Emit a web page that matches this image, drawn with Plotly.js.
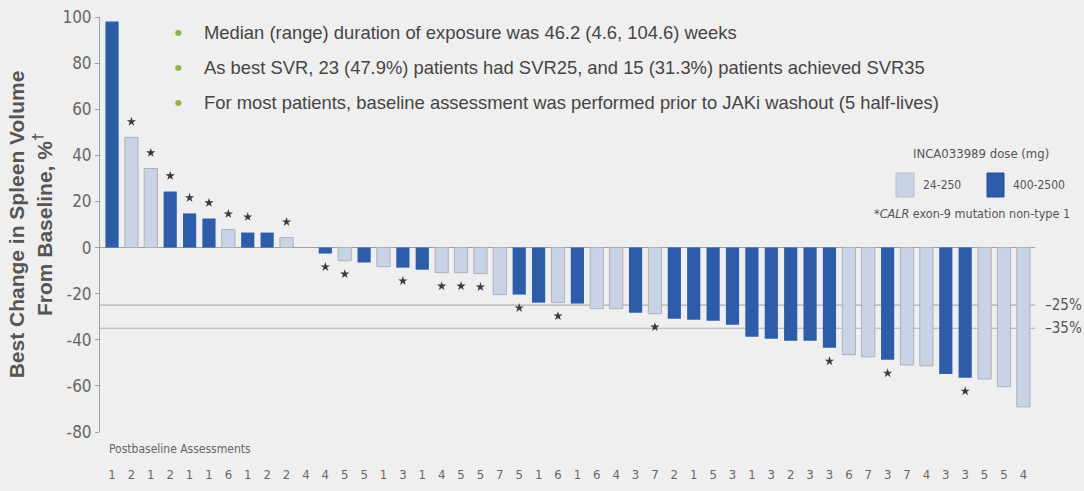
<!DOCTYPE html>
<html><head><meta charset="utf-8">
<script src="https://cdn.plot.ly/plotly-3.0.1.min.js"></script>
<style>html,body{margin:0;padding:0;background:#efefef;}#chart{width:1084px;height:491px;}</style>
</head><body><div id="chart"></div>
<script>
// Patient index 1..48 (waterfall order)
const values = [98, 47.8, 34.3, 24.3, 14.8, 12.6, 7.8, 6.5, 6.5, 4.3, 0,
  -2.6, -5.7, -6.5, -8.3, -8.7, -9.6, -10.9, -10.9, -11.3, -20.4, -20.4, -23.9, -23.9, -24.3,
  -26.5, -26.5, -28.3, -28.7, -30.9, -31.3, -31.7, -33.5, -38.7, -39.6, -40.4, -40.4, -43.5,
  -46.5, -47.4, -48.7, -50.9, -51.3, -54.8, -56.5, -57.0, -60.4, -69.1];
// dose group: L = 24-250 mg, H = 400-2500 mg
const doseGroup = ['H','L','L','H','H','H','L','H','H','L','H',
  'H','L','H','L','H','H','L','L','L','L','H','H','L','H',
  'L','L','H','L','H','H','H','H','H','H','H','H','H',
  'L','L','H','L','L','H','H','L','L','L'];
// CALR exon-9 mutation non-type 1
const calrStar = [0,1,1,1,1,1,1,1,0,1,0,
  1,1,0,0,1,0,1,1,1,0,1,0,1,0,
  0,0,0,1,0,0,0,0,0,0,0,0,1,
  0,0,1,0,0,0,1,0,0,0];
const assessments = ['1','2','1','2','1','1','6','1','2','2','4',
  '4','5','5','1','3','1','4','5','5','7','5','1','6','1',
  '6','4','3','7','2','1','5','3','1','3','2','3','3',
  '6','7','3','7','4','3','3','5','5','4'];
const yTicks = [-80, -60, -40, -20, 0, 20, 40, 60, 80, 100];
const yTickText = ['-80', '-60', '-40', '-20', '0', '20', '40', '60', '80', '100'];
const bullets = [
  'Median (range) duration of exposure was 46.2 (4.6, 104.6) weeks',
  'As best SVR, 23 (47.9%) patients had SVR25, and 15 (31.3%) patients achieved SVR35',
  'For most patients, baseline assessment was performed prior to JAKi washout (5 half-lives)'
];
const thresholds = [-25, -35];
const thresholdLabels = ['\u201325%', '\u201335%'];
const legendTitle = 'INCA033989 dose (mg)';
const legendNames = ['24-250', '400-2500'];

const xs = values.map((v, i) => i + 1);
function pick(arr, g) { return arr.filter((v, i) => doseGroup[i] === g); }
const xL = pick(xs, 'L'), vL = pick(values, 'L');
const xH = pick(xs, 'H'), vH = pick(values, 'H');
const starX = [], starY = [];
values.forEach((v, i) => { if (calrStar[i]) { starX.push(i + 1); starY.push(v >= 0 ? v + 6.8 : v - 5.8); } });

const narrow = 'DejaVu Sans Condensed, Liberation Sans Narrow, Arial Narrow, sans-serif';
const lightC = '#c9d3e6', darkC = '#2d5ca8';
const traces = [
  {type: 'bar', x: xL, y: vL, name: legendNames[0], marker: {color: lightC, line: {color: '#aeb0bd', width: 1}}, showlegend: false},
  {type: 'bar', x: xH, y: vH, name: legendNames[1], marker: {color: darkC, line: {width: 0}}, showlegend: false},
  {type: 'scatter', mode: 'markers', x: starX, y: starY, marker: {symbol: 'star', size: 7, color: '#3a3a3a'}, showlegend: false, hoverinfo: 'skip'}
];

// paper coordinates helpers: plot area x 100..1035, y 17..432
const px = x => (x - 100) / 935;
const py = y => (432 - y) / 415;

const shapes = thresholds.map(t => ({type: 'line', xref: 'paper', x0: 0, x1: 1, yref: 'y', y0: t, y1: t, line: {color: '#b0b0b0', width: 1.2}, layer: 'below'}));
// manual legend swatches
shapes.push({type: 'rect', xref: 'paper', yref: 'paper', x0: px(896), x1: px(914), y0: py(197), y1: py(173), fillcolor: lightC, line: {color: '#b8bccb', width: 1}});
shapes.push({type: 'rect', xref: 'paper', yref: 'paper', x0: px(987), x1: px(1004), y0: py(197), y1: py(173), fillcolor: darkC, line: {color: '#27508f', width: 1}});

const annotations = [];
thresholds.forEach((t, i) => annotations.push({xref: 'paper', x: 1.009, xanchor: 'left', yref: 'y', y: t, yanchor: 'middle', text: thresholdLabels[i], showarrow: false, font: {family: narrow, size: 15, color: '#555'}}));
bullets.forEach((b, i) => {
  annotations.push({xref: 'paper', x: px(178), xanchor: 'center', yref: 'paper', y: py(32 + 35.5 * i), yanchor: 'middle', text: '\u25CF', showarrow: false, font: {family: 'DejaVu Sans', size: 8, color: '#8fb545'}});
  annotations.push({xref: 'paper', x: px(202), xanchor: 'left', yref: 'paper', y: py(32 + 35.5 * i), yanchor: 'middle', text: b, showarrow: false, font: {family: 'Liberation Sans, Arial, sans-serif', size: 18.4, color: '#454545'}});
});
annotations.push({xref: 'paper', x: px(107), xanchor: 'left', yref: 'paper', y: py(449), yanchor: 'middle', text: 'Postbaseline Assessments', showarrow: false, font: {family: narrow, size: 12, color: '#666'}});
annotations.push({xref: 'paper', x: px(981), xanchor: 'center', yref: 'paper', y: py(153), yanchor: 'middle', text: legendTitle, showarrow: false, font: {family: narrow, size: 13, color: '#555'}});
annotations.push({xref: 'paper', x: px(921), xanchor: 'left', yref: 'paper', y: py(185), yanchor: 'middle', text: legendNames[0], showarrow: false, font: {family: narrow, size: 12, color: '#555'}});
annotations.push({xref: 'paper', x: px(1011), xanchor: 'left', yref: 'paper', y: py(185), yanchor: 'middle', text: legendNames[1], showarrow: false, font: {family: narrow, size: 12, color: '#555'}});
annotations.push({xref: 'paper', x: px(972), xanchor: 'center', yref: 'paper', y: py(213), yanchor: 'middle', text: '*<i>CALR</i> exon-9 mutation non-type 1', showarrow: false, font: {family: narrow, size: 12.5, color: '#555'}});

const layout = {
  width: 1084, height: 491,
  margin: {l: 100, r: 49, t: 17, b: 59},
  paper_bgcolor: '#efefef', plot_bgcolor: '#efefef',
  barmode: 'relative', bargap: 0.32,
  showlegend: false,
  xaxis: {range: [0.38, 48.6], tickvals: xs, ticktext: assessments, showgrid: false, zeroline: false, showline: false,
    ticks: '', ticklabelstandoff: 33, tickfont: {family: narrow, size: 13, color: '#666'}, fixedrange: true},
  yaxis: {range: [-80, 100], tickvals: yTicks, ticktext: yTickText, showgrid: false,
    zeroline: true, zerolinecolor: '#a0a0a0', zerolinewidth: 1.5,
    showline: true, linecolor: '#a0a0a0', linewidth: 1, ticks: 'outside', ticklen: 4, tickcolor: '#a0a0a0',
    tickfont: {family: narrow, size: 17, color: '#666'},
    title: {text: '<b>Best Change in Spleen Volume<br>From Baseline, %<sup>\u2020</sup></b>', font: {family: 'Liberation Sans, Arial, sans-serif', size: 21, color: '#555'}, standoff: 4}},
  shapes: shapes, annotations: annotations
};
Plotly.newPlot('chart', traces, layout, {displayModeBar: false, staticPlot: true});
</script></body></html>
